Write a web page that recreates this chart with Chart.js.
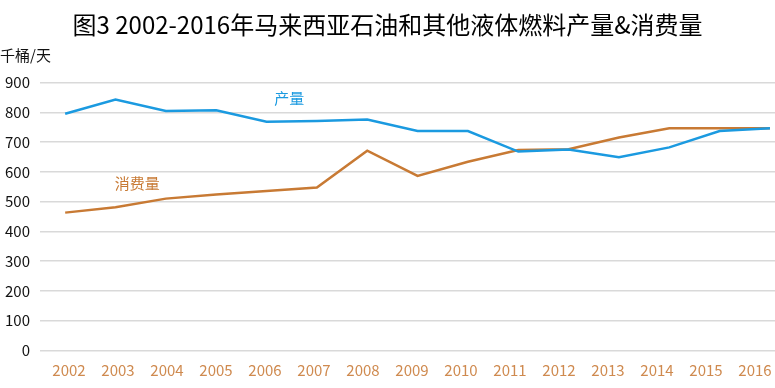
<!DOCTYPE html>
<html>
<head>
<meta charset="utf-8">
<script src="https://cdn.jsdelivr.net/npm/chart.js@4.4.1/dist/chart.umd.min.js"></script>
<style>
  html, body { margin: 0; padding: 0; background: #fff; }
  #chartBox { width: 775px; height: 388px; }
</style>
</head>
<body>
<div id="chartBox"><canvas id="myChart"></canvas></div>
<script>
// Chart data (thousand barrels per day).
var years = ['2002', '2003', '2004', '2005', '2006', '2007', '2008', '2009', '2010', '2011', '2012', '2013', '2014', '2015', '2016'];
var production = [795, 843, 804, 807, 768, 771, 776, 737, 737, 668, 675, 649, 682, 737, 746];
var consumption = [463, 481, 510, 524, 536, 547, 671, 586, 634, 673, 676, 715, 746, 746, 746];
var yTicks = [0, 100, 200, 300, 400, 500, 600, 700, 800, 900, 1000];

var blue = "#1b9ae0";
var brown = "#c87a34";
var cjkFont = "'Noto Sans CJK SC', 'Open Sans', sans-serif";

function toPoints(values) {
  return values.map((v, i) => ({ x: i, y: v }));
}

// Draws the unit text and the two series captions.
var textPlugin = {
  id: "chartTexts",
  afterDatasetsDraw(chart) {
    var ctx = chart.ctx;
    var xs = chart.scales.x, ys = chart.scales.y;
    ctx.save();
    ctx.textBaseline = "middle";
    ctx.font = "15px " + cjkFont;
    ctx.fillStyle = "#111";
    ctx.textAlign = "left";
    ctx.fillText("千桶/天", 0, 55);
    ctx.textAlign = "center";
    ctx.fillStyle = blue;
    ctx.fillText("产量", xs.getPixelForValue(4.45), ys.getPixelForValue(848));
    ctx.fillStyle = brown;
    ctx.fillText("消费量", xs.getPixelForValue(1.43), ys.getPixelForValue(562));
    ctx.restore();
  }
};

var ctx = document.getElementById("myChart");
var myChart = new Chart(ctx, {
  type: "line",
  data: {
    datasets: [
      {
        label: "产量",
        data: toPoints(production),
        borderColor: blue,
        backgroundColor: blue,
        borderWidth: 2.5,
        pointRadius: 0,
        tension: 0,
        fill: false
      },
      {
        label: "消费量",
        data: toPoints(consumption),
        borderColor: brown,
        backgroundColor: brown,
        borderWidth: 2.5,
        pointRadius: 0,
        tension: 0,
        fill: false
      }
    ]
  },
  options: {
    responsive: true,
    maintainAspectRatio: false,
    animation: false,
    layout: { padding: 0 },
    plugins: {
      legend: { display: false },
      tooltip: { enabled: false },
      title: {
        display: true,
        text: "图3 2002-2016年马来西亚石油和其他液体燃料产量&消费量",
        color: "#000",
        font: { family: cjkFont, size: 24, weight: "normal", lineHeight: 1.2 },
        padding: { top: 10, bottom: 13.9 }
      }
    },
    scales: {
      x: {
        type: "linear",
        display: false,
        min: -0.5,
        max: 14.1
      },
      xl: {
        type: "category",
        position: "bottom",
        labels: years,
        offset: true,
        grid: { display: false },
        border: { display: false },
        ticks: {
          color: "#cf8a4f",
          font: { family: cjkFont, size: 15 },
          padding: 3,
          labelOffset: 4.5,
          maxRotation: 0,
          autoSkip: false
        },
        afterFit: function(scale) { scale.height = 37.5; }
      },
      y: {
        min: 0,
        max: 1000,
        afterBuildTicks: function(scale) {
          scale.ticks = yTicks.map(v => ({ value: v }));
        },
        border: { display: false },
        grid: {
          color: c => c.tick && c.tick.value === 1000 ? "rgba(0,0,0,0)" : "#d9d9d9",
          lineWidth: 1.5,
          drawTicks: false
        },
        ticks: {
          color: "#111",
          font: { family: cjkFont, size: 15 },
          padding: 10,
          callback: v => v === 1000 ? "" : v
        },
        afterFit: function(scale) { scale.width = 40; }
      }
    }
  },
  plugins: [textPlugin]
});
</script>
</body>
</html>
